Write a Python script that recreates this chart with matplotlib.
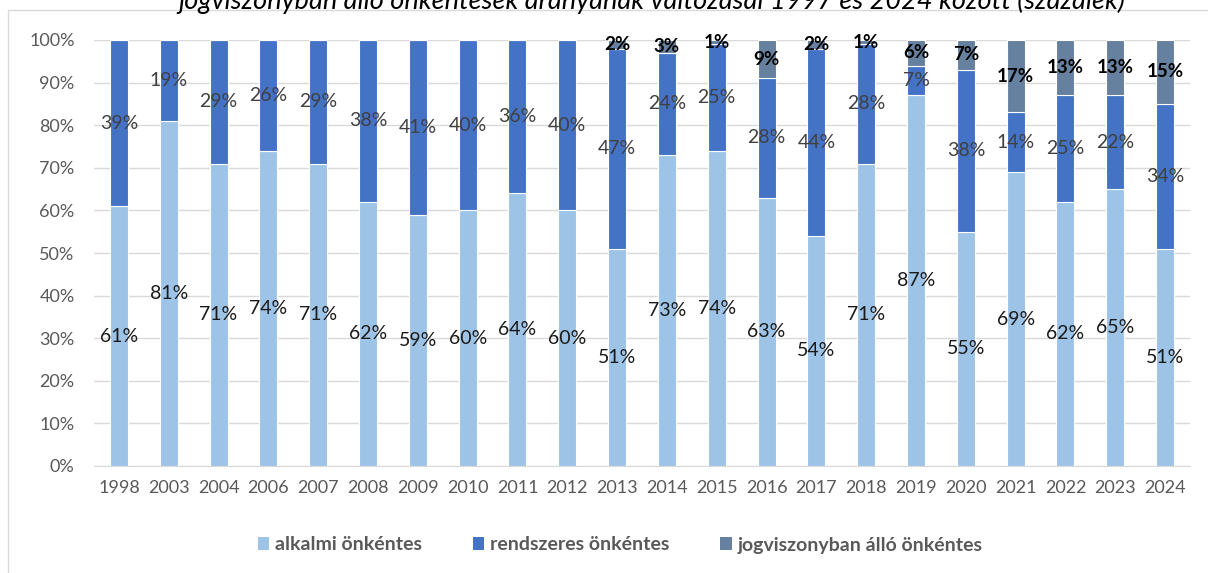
import matplotlib
matplotlib.use("Agg")
import matplotlib.pyplot as plt
from matplotlib.patches import Rectangle, Patch
import numpy as np

plt.rcParams['font.family'] = ['Lato', 'DejaVu Sans']

# adatok (százalék)
years = ['1998', '2003', '2004', '2006', '2007', '2008', '2009', '2010', '2011', '2012', '2013',
         '2014', '2015', '2016', '2017', '2018', '2019', '2020', '2021', '2022', '2023', '2024']
alkalmi = [61, 81, 71, 74, 71, 62, 59, 60, 64, 60, 51, 73, 74, 63, 54, 71, 87, 55, 69, 62, 65, 51]
rendszeres = [39, 19, 29, 26, 29, 38, 41, 40, 36, 40, 47, 24, 25, 28, 44, 28, 7, 38, 14, 25, 22, 34]
jogviszony = [0, 0, 0, 0, 0, 0, 0, 0, 0, 0, 2, 3, 1, 9, 2, 1, 6, 7, 17, 13, 13, 15]

series_names = ['alkalmi önkéntes', 'rendszeres önkéntes', 'jogviszonyban álló önkéntes']
colors = ['#9DC3E6', '#4472C4', '#66809F']

fig = plt.figure(figsize=(12.08, 5.73), dpi=100)
ax = fig.add_axes([94 / 1208, 1 - 466 / 573, (1190 - 94) / 1208, (466 - 40) / 573])

x = np.arange(len(years))
w = 0.36
bottom = np.zeros(len(years))
for vals, col, name, idx in zip([alkalmi, rendszeres, jogviszony], colors, series_names, range(3)):
    vals = np.array(vals, dtype=float)
    ax.bar(x, vals, w, bottom=bottom, color=col, edgecolor='white', linewidth=0.8, label=name, zorder=3)
    for xi, v, b in zip(x, vals, bottom):
        if v <= 0:
            continue
        if idx == 2:
            ax.text(xi, b + v / 2, f'{int(v)}%', ha='center', va='center', fontsize=13.5,
                    fontweight='bold', color='black', zorder=5)
        else:
            tc = '#1a1a1a' if idx == 0 else '#404040'
            ax.text(xi, b + v / 2, f'{int(v)}%', ha='center', va='center', fontsize=14,
                    color=tc, zorder=5)
    bottom += vals

ax.set_xlim(-0.5, len(years) - 0.5)
ax.set_ylim(0, 100)
ax.set_yticks(np.arange(0, 101, 10))
ax.set_yticklabels([f'{t}%' for t in range(0, 101, 10)])
ax.set_xticks(x)
ax.set_xticklabels(years)
ax.tick_params(axis='both', length=0, labelsize=13, colors='#595959')
ax.tick_params(axis='x', pad=10)
ax.tick_params(axis='y', pad=14)
ax.grid(axis='y', color='#D9D9D9', linewidth=1, zorder=0)
for s in ['top', 'right', 'left']:
    ax.spines[s].set_visible(False)
ax.spines['bottom'].set_color('#D9D9D9')

handles = [Patch(facecolor=c, label=n) for c, n in zip(colors, series_names)]
leg = fig.legend(handles=handles, loc='center', bbox_to_anchor=(620 / 1208, 1 - 545 / 573), ncol=3,
                 frameon=False, handlelength=0.6, handleheight=0.6, handletextpad=0.3,
                 columnspacing=2.6, prop={'size': 14, 'weight': 'bold'})
for t in leg.get_texts():
    t.set_color('#595959')

# cím (felül levágva, mint az eredetin)
fig.text(652 / 1208, 1 - 9 / 573, 'jogviszonyban álló önkéntesek arányának változásai 1997 és 2024 között (százalék)',
         ha='center', va='baseline', fontsize=19.5, style='italic', color='black')

# diagram kerete
fig.add_artist(Rectangle((8 / 1208, -0.1), 1.2, 1 - 10 / 573 + 0.1, transform=fig.transFigure,
                         fill=False, edgecolor='#D9D9D9', linewidth=1))

fig.savefig('out.png', dpi=100)
